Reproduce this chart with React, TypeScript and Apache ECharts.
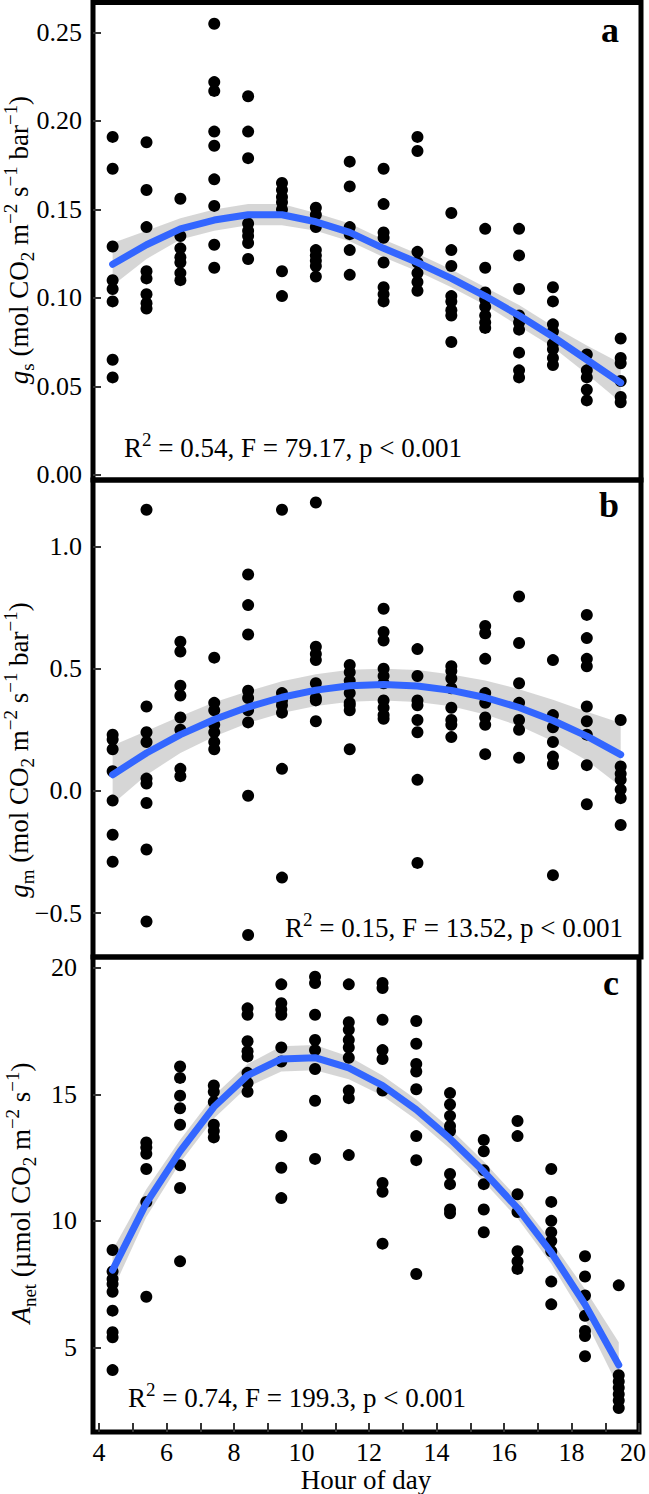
import React, { useEffect, useRef } from "react";
import * as echarts from "echarts";

// Measurement hours (columns)
const hours = [4.4, 5.4, 6.4, 7.4, 8.4, 9.4, 10.4, 11.4, 12.4, 13.4, 14.4, 15.4, 16.4, 17.4, 18.4, 19.4];

// Panel a: stomatal conductance gs, observations per hour
const gsObs = [
  [0.191, 0.173, 0.129, 0.110, 0.105, 0.098, 0.065, 0.055],
  [0.188, 0.161, 0.140, 0.115, 0.111, 0.102, 0.097, 0.094],
  [0.156, 0.135, 0.128, 0.123, 0.120, 0.114, 0.110],
  [0.255, 0.222, 0.217, 0.194, 0.186, 0.167, 0.152, 0.130, 0.117],
  [0.214, 0.194, 0.179, 0.142, 0.138, 0.135, 0.131, 0.122],
  [0.165, 0.161, 0.157, 0.154, 0.150, 0.115, 0.101],
  [0.151, 0.147, 0.140, 0.127, 0.124, 0.121, 0.118, 0.112],
  [0.177, 0.163, 0.140, 0.136, 0.127, 0.113],
  [0.173, 0.153, 0.137, 0.134, 0.120, 0.106, 0.102, 0.098],
  [0.191, 0.183, 0.126, 0.120, 0.114, 0.109, 0.104],
  [0.148, 0.127, 0.118, 0.101, 0.098, 0.093, 0.090, 0.075],
  [0.139, 0.117, 0.103, 0.099, 0.095, 0.090, 0.086, 0.083],
  [0.139, 0.124, 0.105, 0.090, 0.086, 0.082, 0.069, 0.059, 0.055],
  [0.106, 0.098, 0.085, 0.081, 0.074, 0.071, 0.066, 0.062],
  [0.068, 0.059, 0.055, 0.048, 0.042],
  [0.077, 0.066, 0.063, 0.053, 0.044, 0.041],
];
const gsFit = [0.119, 0.130, 0.139, 0.144, 0.147, 0.147, 0.143, 0.137, 0.128, 0.120, 0.111, 0.101, 0.090, 0.078, 0.065, 0.052];
const gsLo = [0.107, 0.122, 0.133, 0.138, 0.141, 0.141, 0.138, 0.132, 0.123, 0.115, 0.106, 0.096, 0.084, 0.072, 0.057, 0.041];
const gsHi = [0.131, 0.138, 0.145, 0.150, 0.153, 0.153, 0.148, 0.142, 0.133, 0.125, 0.116, 0.106, 0.096, 0.084, 0.073, 0.063];

// Panel b: mesophyll conductance gm
const gmObs = [
  [0.23, 0.21, 0.17, 0.08, -0.04, -0.18, -0.29],
  [1.15, 0.345, 0.24, 0.20, 0.05, 0.03, -0.05, -0.24, -0.535],
  [0.61, 0.57, 0.43, 0.39, 0.30, 0.25, 0.09, 0.06],
  [0.545, 0.36, 0.33, 0.27, 0.24, 0.20, 0.17],
  [0.885, 0.76, 0.64, 0.41, 0.38, 0.33, 0.28, -0.02, -0.59],
  [1.15, 0.40, 0.37, 0.35, 0.32, 0.09, -0.355],
  [1.18, 0.59, 0.56, 0.535, 0.44, 0.38, 0.37, 0.285],
  [0.515, 0.485, 0.45, 0.40, 0.36, 0.35, 0.33, 0.17],
  [0.745, 0.65, 0.615, 0.50, 0.47, 0.44, 0.37, 0.34, 0.31, 0.295],
  [0.58, 0.47, 0.37, 0.35, 0.29, 0.24, 0.045, -0.295],
  [0.51, 0.49, 0.46, 0.42, 0.34, 0.29, 0.27, 0.22],
  [0.675, 0.645, 0.54, 0.40, 0.36, 0.30, 0.27, 0.15],
  [0.795, 0.605, 0.44, 0.36, 0.29, 0.25, 0.135],
  [0.535, 0.31, 0.26, 0.20, 0.14, 0.11, -0.345],
  [0.72, 0.625, 0.54, 0.51, 0.345, 0.285, 0.23, 0.105, -0.055],
  [0.29, 0.10, 0.07, 0.045, 0.005, -0.03, -0.14],
];
const gmFit = [0.066, 0.155, 0.230, 0.292, 0.343, 0.383, 0.412, 0.430, 0.435, 0.429, 0.411, 0.382, 0.341, 0.288, 0.224, 0.148];
const gmLo = [-0.054, 0.065, 0.155, 0.222, 0.278, 0.318, 0.347, 0.365, 0.370, 0.364, 0.346, 0.312, 0.266, 0.203, 0.124, 0.018];
const gmHi = [0.186, 0.245, 0.305, 0.362, 0.408, 0.448, 0.477, 0.495, 0.500, 0.494, 0.476, 0.452, 0.416, 0.373, 0.324, 0.278];

// Panel c: net assimilation Anet
const anObs = [
  [8.85, 8.0, 7.7, 7.5, 7.2, 6.45, 5.6, 5.4, 4.1],
  [13.1, 12.9, 12.65, 12.05, 10.75, 7.0],
  [16.1, 15.65, 14.95, 14.45, 13.8, 12.2, 11.3, 8.4],
  [15.35, 15.1, 14.7, 13.8, 13.55, 13.3],
  [18.4, 18.15, 17.1, 16.7, 16.5, 15.85, 15.45, 15.1],
  [19.35, 18.6, 18.35, 18.15, 16.85, 16.3, 13.35, 12.1, 10.9],
  [19.65, 19.4, 18.15, 17.15, 16.75, 16.0, 14.75, 12.45],
  [19.35, 17.85, 17.55, 17.15, 16.85, 16.45, 15.15, 14.85, 12.6],
  [19.4, 19.2, 17.95, 16.75, 16.4, 15.15, 11.5, 11.15, 9.1],
  [17.9, 17.0, 16.2, 15.9, 15.2, 13.35, 12.4, 7.9],
  [15.05, 14.6, 14.15, 13.75, 13.55, 11.85, 11.45, 10.45, 10.3],
  [13.2, 12.75, 12.0, 11.45, 10.45, 9.55],
  [13.95, 13.35, 11.05, 10.35, 8.8, 8.4, 8.1],
  [12.05, 10.75, 10.0, 9.55, 9.2, 8.8, 7.6, 6.7],
  [8.6, 7.8, 7.05, 6.25, 5.65, 5.45, 4.65],
  [7.45, 3.9, 3.65, 3.4, 3.15, 2.9, 2.6],
];
const anFit = [8.05, 10.7, 12.75, 14.5, 15.75, 16.4, 16.45, 16.05, 15.35, 14.4, 13.25, 11.95, 10.5, 8.75, 6.7, 4.3];
const anLo = [7.25, 10.15, 12.3, 14.05, 15.3, 15.9, 15.95, 15.6, 14.95, 14.0, 12.85, 11.55, 10.1, 8.3, 6.1, 3.4];
const anHi = [8.85, 11.25, 13.2, 14.95, 16.2, 16.9, 16.95, 16.5, 15.75, 14.8, 13.65, 12.35, 10.9, 9.2, 7.3, 5.2];

// Axis ticks / labels
const xTickValues = [4, 5, 6, 7, 8, 9, 10, 11, 12, 13, 14, 15, 16, 17, 18, 19, 20];
const xLabelValues = [4, 6, 8, 10, 12, 14, 16, 18, 20];
const gsTicks = [0, 0.05, 0.1, 0.15, 0.2, 0.25];
const gmTicks = [-0.5, 0, 0.5, 1.0];
const anTicks = [5, 10, 15, 20];

const statsA = ["0.54", "79.17", "0.001"];
const statsB = ["0.15", "13.52", "0.001"];
const statsC = ["0.74", "199.3", "0.001"];

const FONT = "'Liberation Serif', 'Times New Roman', Times, serif";
const BLUE = "#3366FF";
const RIBBON = "rgba(153,153,153,0.4)";

function toPoints(obs: number[][]) {
  const out: number[][] = [];
  obs.forEach((col, i) => col.forEach((v) => out.push([hours[i], v])));
  return out;
}

function ribbon(lo: number[], hi: number[]) {
  return (params: any, api: any) => {
    if (params.dataIndex !== 0) return null;
    const top = hours.map((h, i) => api.coord([h, hi[i]]));
    const bot = hours.map((h, i) => api.coord([h, lo[i]])).reverse();
    return {
      type: "polygon",
      shape: { points: top.concat(bot) },
      style: { fill: RIBBON },
    };
  };
}

function panelSeries(idx: number, obs: number[][], fit: number[], lo: number[], hi: number[]) {
  return [
    {
      type: "scatter",
      xAxisIndex: idx,
      yAxisIndex: idx,
      data: toPoints(obs),
      symbol: "circle",
      symbolSize: 12,
      itemStyle: { color: "#000", opacity: 1 },
      silent: true,
    },
    {
      type: "custom",
      xAxisIndex: idx,
      yAxisIndex: idx,
      data: [[hours[0], fit[0]]],
      renderItem: ribbon(lo, hi),
      silent: true,
    },
    {
      type: "line",
      xAxisIndex: idx,
      yAxisIndex: idx,
      data: hours.map((h, i) => [h, fit[i]]),
      symbol: "none",
      showSymbol: false,
      lineStyle: { color: BLUE, width: 7, cap: "round", join: "round" },
      silent: true,
    },
  ];
}

const tickStyle = { color: "#333", width: 2 };
const labelBase = { fontSize: 26, fontFamily: FONT, color: "#000" };

function yAxis(idx: number, min: number, max: number, ticks: number[], fmt: (v: number) => string, margin: number) {
  return {
    type: "value",
    gridIndex: idx,
    min,
    max,
    axisLine: { show: false },
    splitLine: { show: false },
    axisTick: { show: true, inside: true, length: 8, customValues: ticks, lineStyle: tickStyle },
    axisLabel: { ...labelBase, margin, customValues: ticks, formatter: (v: number) => fmt(v) },
  };
}

function xAxis(idx: number, visible: boolean) {
  const base: any = {
    type: "value",
    gridIndex: idx,
    min: 3.82,
    max: 20,
    axisLine: { show: false },
    splitLine: { show: false },
  };
  if (!visible) {
    base.axisTick = { show: false };
    base.axisLabel = { show: false };
    return base;
  }
  base.axisTick = { show: true, inside: true, length: 9, customValues: xTickValues, lineStyle: tickStyle };
  base.axisLabel = {
    ...labelBase,
    margin: 7,
    customValues: xLabelValues,
    formatter: (v: number) => (v === 20 ? "{e|20}" : String(v)),
    rich: { e: { ...labelBase, padding: [0, 12, 0, 0] } },
  };
  base.name = "Hour of day";
  base.nameLocation = "middle";
  base.nameGap = 33;
  base.nameTextStyle = { fontSize: 27, fontFamily: FONT, color: "#000" };
  return base;
}

const richTitle = {
  n: { fontSize: 27, fontFamily: FONT, lineHeight: 36, fill: "#000", color: "#000" },
  i: { fontSize: 27, fontFamily: FONT, fontStyle: "italic", lineHeight: 36, fill: "#000", color: "#000" },
  sub: { fontSize: 19, fontFamily: FONT, lineHeight: 19, verticalAlign: "bottom", fill: "#000", color: "#000" },
  sup: { fontSize: 19, fontFamily: FONT, lineHeight: 19, verticalAlign: "top", fill: "#000", color: "#000" },
};

function titleText(x: number, y: number, text: string) {
  return {
    type: "text",
    x,
    y,
    rotation: Math.PI / 2,
    z: 100,
    style: { text, align: "center", verticalAlign: "middle", rich: richTitle, fill: "#000", fontFamily: FONT },
  };
}

function statText(x: number, y: number, s: string[], align: string) {
  return {
    type: "text",
    x,
    y,
    z: 100,
    style: {
      text: `{n|R}{sup|2}{n| = ${s[0]}, F = ${s[1]}, p < ${s[2]}}`,
      align,
      verticalAlign: "middle",
      rich: richTitle,
      fill: "#000",
      fontFamily: FONT,
    },
  };
}

function letterText(y: number, t: string) {
  return {
    type: "text",
    x: 619,
    y,
    z: 100,
    style: { text: t, align: "right", verticalAlign: "middle", fontSize: 36, fontWeight: "bold", fontFamily: FONT, fill: "#000" },
  };
}

export default function App() {
  const ref = useRef<HTMLDivElement>(null);
  useEffect(() => {
    document.body.style.margin = "0";
    if (!ref.current) return;
    const chart = echarts.init(ref.current, null, { renderer: "svg" });
    const gridBase = { left: 93, width: 548, show: true, borderColor: "#000", borderWidth: 5, backgroundColor: "transparent" };
    chart.setOption({
      animation: false,
      textStyle: { fontFamily: FONT },
      grid: [
        { ...gridBase, top: 2.5, height: 477.5 },
        { ...gridBase, top: 480, height: 477 },
        { ...gridBase, top: 957, height: 477.5 },
      ],
      xAxis: [xAxis(0, false), xAxis(1, false), xAxis(2, true)],
      yAxis: [
        yAxis(0, -0.003, 0.267, gsTicks, (v) => v.toFixed(2), 11),
        yAxis(1, -0.68, 1.272, gmTicks, (v) => v.toFixed(1).replace("-", "\u2212"), 11),
        yAxis(2, 1.65, 20.43, anTicks, (v) => String(Math.round(v)), 16),
      ],
      series: [
        ...panelSeries(0, gsObs, gsFit, gsLo, gsHi),
        ...panelSeries(1, gmObs, gmFit, gmLo, gmHi),
        ...panelSeries(2, anObs, anFit, anLo, anHi),
      ],
      graphic: [
        titleText(19, 240, "{i|g}{sub|s}{n| (mol CO}{sub|2}{n| m}{sup|\u22122}{n| s}{sup|\u22121}{n| bar}{sup|\u22121}{n|)}"),
        titleText(19, 750, "{i|g}{sub|m}{n| (mol CO}{sub|2}{n| m}{sup|\u22122}{n| s}{sup|\u22121}{n| bar}{sup|\u22121}{n|)}"),
        titleText(21, 1193, "{i|A}{sub|net}{n| (\u00b5mol CO}{sub|2}{n| m}{sup|\u22122}{n| s}{sup|\u22121}{n|)}"),
        statText(124, 448, statsA, "left"),
        statText(623, 928, statsB, "right"),
        statText(128, 1398, statsC, "left"),
        letterText(30, "a"),
        letterText(505, "b"),
        letterText(983, "c"),
      ],
    });
    return () => chart.dispose();
  }, []);
  return <div ref={ref} style={{ width: 649, height: 1494 }} />;
}
